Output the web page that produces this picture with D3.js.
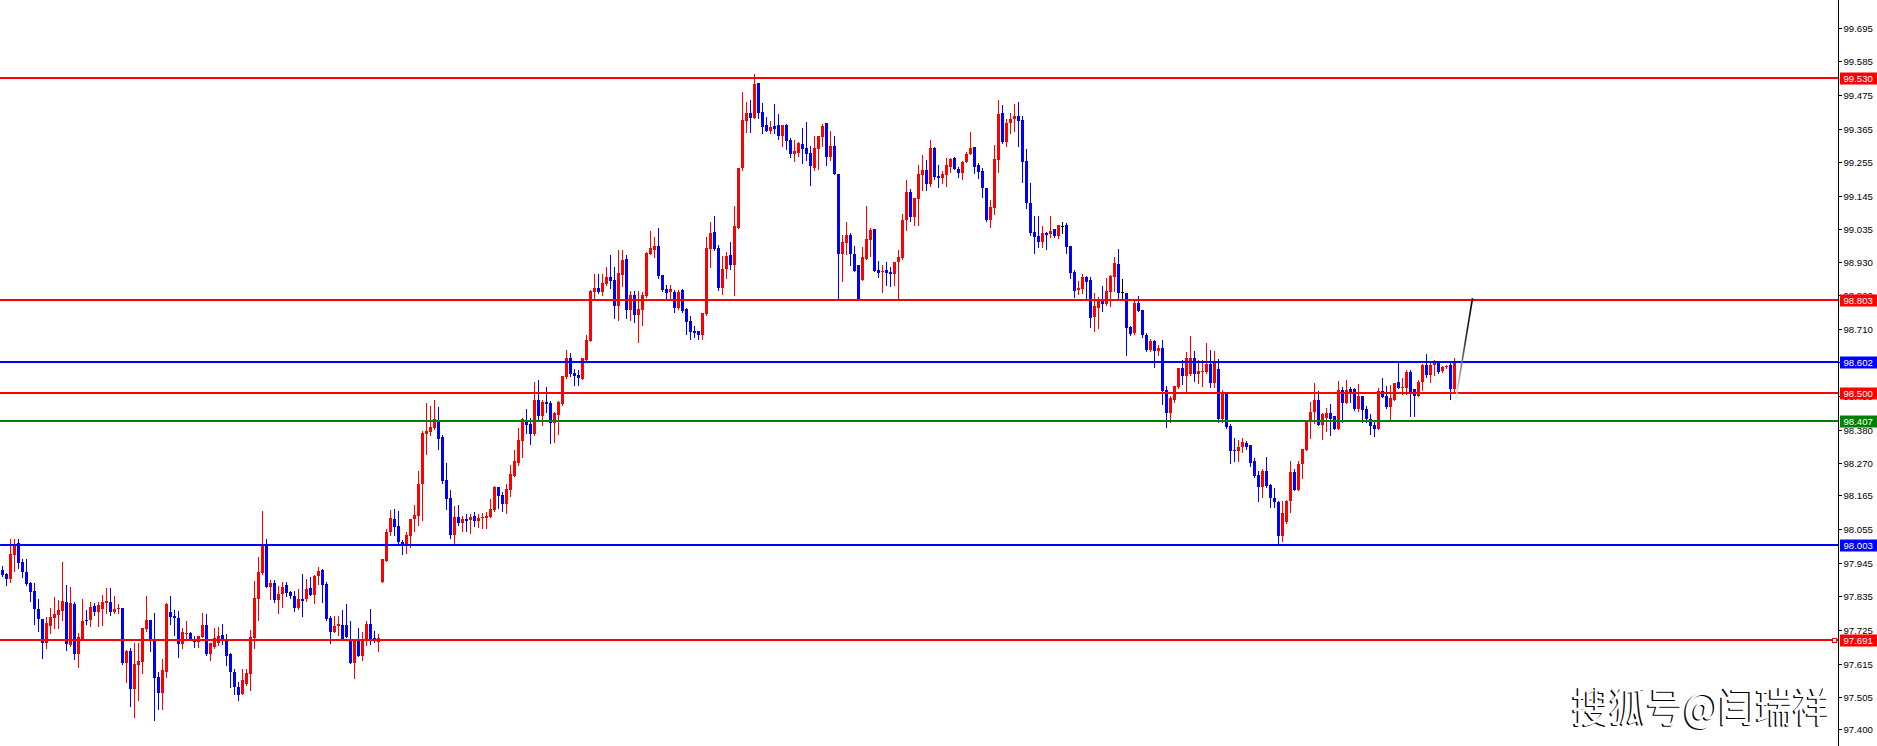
<!DOCTYPE html>
<html><head><meta charset="utf-8">
<script src="https://cdn.jsdelivr.net/npm/d3@7"></script>
<style>html,body{margin:0;padding:0;background:#fff;overflow:hidden}svg{display:block}</style>
</head><body>
<svg id="chart" width="1877" height="746"></svg>
<script>
const opens = [97.921,97.908,97.891,97.970,98.008,97.947,97.914,97.878,97.852,97.793,97.760,97.683,97.739,97.765,97.775,97.788,97.816,97.675,97.810,97.647,
97.692,97.757,97.756,97.803,97.783,97.794,97.814,97.816,97.783,97.792,97.798,97.618,97.656,97.532,97.610,97.620,97.728,97.756,97.692,97.570,
97.520,97.588,97.783,97.770,97.764,97.680,97.711,97.716,97.692,97.684,97.703,97.741,97.647,97.670,97.682,97.708,97.692,97.645,97.589,97.538,
97.517,97.548,97.581,97.699,97.827,97.910,98.007,97.866,97.878,97.823,97.841,97.871,97.849,97.836,97.798,97.827,97.825,97.862,97.839,97.902,
97.920,97.875,97.764,97.718,97.739,97.740,97.740,97.697,97.618,97.691,97.641,97.694,97.744,97.699,97.687,97.883,97.952,98.045,98.088,98.065,
98.014,98.001,98.033,98.088,98.098,98.202,98.366,98.372,98.384,98.412,98.356,98.215,98.157,98.036,98.094,98.076,98.088,98.085,98.098,98.082,
98.091,98.091,98.096,98.117,98.193,98.166,98.137,98.183,98.229,98.271,98.343,98.412,98.399,98.366,98.477,98.425,98.471,98.467,98.402,98.428,
98.464,98.552,98.615,98.565,98.559,98.546,98.608,98.670,98.831,98.843,98.829,98.857,98.879,98.870,98.785,98.886,98.938,98.772,98.821,98.755,
98.772,98.817,98.955,98.968,98.981,98.886,98.841,98.831,98.830,98.778,98.837,98.776,98.736,98.703,98.703,98.690,98.758,98.971,99.027,98.974,
98.843,98.906,98.951,98.919,99.040,99.236,99.390,99.417,99.400,99.514,99.419,99.377,99.357,99.373,99.377,99.341,99.377,99.328,99.282,99.285,
99.315,99.301,99.285,99.236,99.298,99.337,99.383,99.272,99.308,99.216,98.955,98.991,99.017,98.955,98.919,98.870,98.938,99.000,99.036,98.902,
98.896,98.902,98.896,98.889,98.929,98.942,99.066,99.158,99.076,99.135,99.213,99.229,99.184,99.301,99.210,99.203,99.213,99.239,99.269,99.233,
99.220,99.256,99.282,99.304,99.246,99.226,99.171,99.066,99.105,99.262,99.417,99.321,99.383,99.396,99.406,99.393,99.259,99.122,99.027,99.014,
98.994,99.023,99.020,99.036,99.014,99.046,99.050,98.981,98.896,98.837,98.840,98.879,98.870,98.749,98.778,98.801,98.791,98.830,98.879,98.922,
98.830,98.827,98.716,98.696,98.794,98.772,98.690,98.641,98.670,98.637,98.647,98.510,98.434,98.477,98.520,98.582,98.556,98.562,98.615,98.562,
98.569,98.569,98.595,98.533,98.579,98.415,98.497,98.392,98.315,98.310,98.323,98.337,98.330,98.278,98.232,98.193,98.245,98.199,98.157,98.144,
98.032,98.078,98.147,98.242,98.183,98.268,98.314,98.405,98.438,98.477,98.395,98.418,98.435,98.425,98.382,98.510,98.467,98.514,98.513,98.448,
98.490,98.448,98.415,98.395,98.382,98.507,98.490,98.454,98.477,98.536,98.516,98.516,98.569,98.513,98.490,98.536,98.592,98.559,98.592,98.601,
98.572,98.585,98.592,98.513];
const highs = [97.934,97.910,98.023,98.022,98.022,97.958,97.957,97.883,97.877,97.827,97.760,97.766,97.798,97.832,97.823,97.947,97.872,97.865,97.817,97.715,
97.827,97.791,97.816,97.813,97.816,97.838,97.862,97.862,97.835,97.811,97.798,97.660,97.665,97.682,97.682,97.731,97.836,97.756,97.780,97.589,
97.629,97.812,97.836,97.789,97.786,97.730,97.754,97.719,97.706,97.706,97.780,97.778,97.682,97.731,97.734,97.745,97.712,97.649,97.598,97.554,
97.598,97.598,97.725,97.886,97.965,98.114,98.021,97.887,97.889,97.868,97.883,97.881,97.854,97.854,97.859,97.908,97.893,97.898,97.904,97.930,
97.924,97.881,97.769,97.769,97.770,97.789,97.810,97.754,97.692,97.730,97.719,97.754,97.792,97.721,97.713,97.957,98.056,98.118,98.120,98.115,
98.019,98.045,98.088,98.134,98.245,98.376,98.467,98.458,98.477,98.454,98.363,98.271,98.183,98.130,98.134,98.098,98.104,98.104,98.111,98.104,
98.108,98.111,98.153,98.196,98.193,98.176,98.202,98.265,98.314,98.386,98.418,98.448,98.418,98.536,98.543,98.477,98.520,98.474,98.438,98.474,
98.556,98.641,98.631,98.579,98.575,98.615,98.690,98.837,98.889,98.889,98.889,98.912,98.951,98.912,98.968,98.968,98.951,98.834,98.834,98.834,
98.830,98.961,99.030,99.010,99.040,98.886,98.853,98.853,98.837,98.837,98.840,98.778,98.752,98.719,98.703,98.762,99.010,99.059,99.079,98.984,
98.948,98.961,98.994,99.112,99.236,99.485,99.452,99.458,99.544,99.514,99.449,99.403,99.390,99.445,99.413,99.377,99.380,99.334,99.328,99.321,
99.367,99.386,99.308,99.341,99.341,99.380,99.383,99.357,99.341,99.216,99.017,99.059,99.023,98.981,98.919,98.978,99.112,99.040,99.036,98.932,
98.919,98.929,98.912,98.929,98.968,99.086,99.197,99.167,99.138,99.246,99.279,99.262,99.328,99.305,99.246,99.226,99.269,99.269,99.272,99.239,
99.259,99.288,99.354,99.305,99.252,99.236,99.171,99.131,99.311,99.458,99.442,99.396,99.416,99.445,99.452,99.406,99.298,99.187,99.079,99.079,
99.046,99.027,99.079,99.036,99.050,99.059,99.056,98.981,98.902,98.866,98.889,98.883,98.879,98.827,98.814,98.850,98.876,98.886,98.945,98.971,
98.873,98.827,98.719,98.808,98.817,98.772,98.696,98.677,98.673,98.657,98.673,98.523,98.490,98.523,98.582,98.608,98.634,98.687,98.637,98.608,
98.608,98.664,98.641,98.637,98.611,98.510,98.497,98.399,98.353,98.346,98.353,98.343,98.330,98.287,98.245,98.251,98.291,98.202,98.189,98.147,
98.147,98.150,98.278,98.251,98.278,98.317,98.405,98.471,98.533,98.507,98.435,98.451,98.464,98.425,98.539,98.520,98.543,98.520,98.516,98.530,
98.490,98.458,98.431,98.408,98.516,98.549,98.523,98.526,98.533,98.605,98.549,98.575,98.575,98.513,98.543,98.595,98.628,98.601,98.608,98.605,
98.588,98.592,98.601,98.615];
const lows = [97.902,97.873,97.883,97.919,97.928,97.898,97.873,97.820,97.744,97.721,97.634,97.667,97.715,97.731,97.732,97.758,97.659,97.673,97.629,97.605,
97.692,97.745,97.739,97.774,97.739,97.742,97.782,97.774,97.779,97.780,97.614,97.556,97.477,97.441,97.497,97.585,97.723,97.656,97.429,97.468,
97.468,97.571,97.745,97.709,97.636,97.666,97.696,97.694,97.670,97.670,97.702,97.644,97.626,97.667,97.675,97.680,97.610,97.538,97.517,97.497,
97.514,97.545,97.530,97.665,97.757,97.907,97.866,97.826,97.815,97.781,97.801,97.837,97.828,97.788,97.795,97.771,97.820,97.839,97.813,97.874,
97.815,97.759,97.681,97.718,97.709,97.695,97.702,97.618,97.569,97.641,97.626,97.675,97.680,97.686,97.656,97.883,97.950,98.037,98.035,98.008,
97.974,97.978,97.997,98.049,98.068,98.085,98.302,98.363,98.382,98.317,98.207,98.122,98.026,98.006,98.068,98.050,98.049,98.042,98.065,98.062,
98.058,98.058,98.094,98.114,98.124,98.114,98.108,98.163,98.229,98.265,98.291,98.368,98.333,98.363,98.412,98.395,98.438,98.336,98.340,98.366,
98.461,98.549,98.556,98.526,98.526,98.546,98.608,98.670,98.804,98.826,98.820,98.853,98.843,98.745,98.739,98.850,98.745,98.739,98.732,98.667,
98.722,98.814,98.955,98.945,98.876,98.834,98.804,98.804,98.765,98.775,98.765,98.693,98.677,98.683,98.677,98.677,98.755,98.912,98.968,98.837,
98.824,98.876,98.906,98.821,99.040,99.229,99.354,99.354,99.400,99.400,99.350,99.357,99.350,99.350,99.331,99.308,99.298,99.272,99.259,99.275,
99.252,99.262,99.180,99.229,99.233,99.308,99.246,99.262,99.216,98.809,98.866,98.955,98.919,98.899,98.809,98.870,98.938,98.948,98.899,98.879,
98.830,98.853,98.850,98.853,98.809,98.938,99.033,99.063,99.050,99.050,99.164,99.164,99.177,99.200,99.174,99.187,99.177,99.223,99.233,99.207,
99.200,99.256,99.282,99.220,99.203,99.141,99.063,99.043,99.086,99.223,99.318,99.308,99.351,99.357,99.308,99.190,99.105,99.017,98.958,98.978,
98.978,98.971,99.010,99.010,99.007,99.023,98.958,98.876,98.814,98.824,98.827,98.811,98.716,98.703,98.713,98.768,98.788,98.785,98.834,98.811,
98.811,98.624,98.690,98.693,98.768,98.683,98.637,98.637,98.585,98.624,98.464,98.389,98.405,98.471,98.516,98.530,98.507,98.559,98.539,98.533,
98.523,98.565,98.520,98.520,98.405,98.405,98.386,98.271,98.279,98.279,98.307,98.317,98.261,98.225,98.147,98.160,98.193,98.127,98.127,98.007,
98.017,98.075,98.111,98.183,98.183,98.222,98.314,98.353,98.402,98.395,98.350,98.376,98.363,98.382,98.382,98.405,98.467,98.471,98.444,98.441,
98.405,98.405,98.366,98.359,98.382,98.487,98.451,98.415,98.477,98.516,98.497,98.497,98.425,98.425,98.490,98.510,98.552,98.536,98.559,98.566,
98.569,98.582,98.480,98.500];
const closes = [97.905,97.891,97.973,98.002,97.945,97.915,97.876,97.850,97.794,97.762,97.683,97.748,97.767,97.777,97.789,97.819,97.679,97.812,97.647,97.701,
97.754,97.754,97.800,97.783,97.805,97.816,97.819,97.783,97.794,97.798,97.618,97.656,97.533,97.613,97.623,97.731,97.756,97.692,97.569,97.520,
97.594,97.810,97.768,97.763,97.680,97.719,97.716,97.695,97.686,97.705,97.741,97.647,97.682,97.698,97.705,97.692,97.641,97.588,97.539,97.513,
97.560,97.584,97.702,97.828,97.914,98.007,97.866,97.878,97.823,97.841,97.865,97.847,97.836,97.798,97.826,97.819,97.859,97.839,97.903,97.917,
97.872,97.762,97.719,97.739,97.746,97.695,97.702,97.618,97.691,97.641,97.697,97.744,97.692,97.690,97.698,97.957,98.045,98.090,98.063,98.012,
98.001,98.036,98.088,98.101,98.202,98.370,98.376,98.389,98.415,98.350,98.213,98.154,98.036,98.094,98.076,98.088,98.082,98.094,98.082,98.091,
98.094,98.098,98.121,98.193,98.163,98.137,98.186,98.235,98.278,98.346,98.415,98.395,98.366,98.477,98.425,98.471,98.464,98.402,98.436,98.471,
98.556,98.615,98.562,98.556,98.549,98.615,98.673,98.834,98.845,98.829,98.860,98.879,98.866,98.785,98.893,98.935,98.772,98.821,98.755,98.775,
98.821,98.958,98.974,98.981,98.883,98.837,98.828,98.840,98.778,98.830,98.769,98.732,98.700,98.696,98.690,98.762,98.974,99.023,98.971,98.843,
98.906,98.948,98.919,99.046,99.236,99.393,99.417,99.400,99.511,99.417,99.370,99.357,99.370,99.364,99.341,99.377,99.324,99.282,99.292,99.318,
99.298,99.282,99.243,99.301,99.341,99.373,99.272,99.308,99.216,98.955,98.994,99.017,98.955,98.899,98.809,98.945,99.004,99.033,98.899,98.893,
98.899,98.893,98.889,98.929,98.945,99.066,99.158,99.076,99.138,99.216,99.229,99.184,99.301,99.207,99.203,99.216,99.246,99.265,99.233,99.220,
99.256,99.282,99.301,99.239,99.223,99.171,99.066,99.108,99.265,99.413,99.321,99.383,99.396,99.406,99.390,99.256,99.122,99.023,99.010,98.994,
99.023,99.017,99.030,99.014,99.050,99.046,98.978,98.893,98.834,98.843,98.879,98.863,98.745,98.785,98.801,98.791,98.834,98.883,98.925,98.827,
98.830,98.713,98.693,98.794,98.768,98.690,98.641,98.670,98.637,98.647,98.507,98.435,98.484,98.523,98.582,98.556,98.615,98.615,98.562,98.572,
98.572,98.595,98.533,98.605,98.415,98.497,98.389,98.310,98.310,98.323,98.340,98.323,98.271,98.229,98.193,98.245,98.196,98.157,98.142,98.032,
98.108,98.147,98.242,98.183,98.268,98.317,98.405,98.438,98.477,98.395,98.431,98.435,98.414,98.382,98.510,98.467,98.510,98.504,98.448,98.490,
98.444,98.415,98.392,98.382,98.507,98.487,98.454,98.484,98.533,98.516,98.520,98.569,98.497,98.490,98.536,98.592,98.559,98.592,98.601,98.569,
98.585,98.588,98.513,98.601];

const tickValues = [99.695,99.585,99.475,99.365,99.255,99.145,99.035,98.930,98.820,98.710,98.600,98.490,98.380,98.270,98.165,98.055,97.945,97.835,97.725,97.615,97.505,97.400];
const levelPrices = [99.530,98.803,98.602,98.500,98.407,98.003,97.691];
const levelKinds = ["resistance","resistance","pivot","resistance","support","pivot","resistance"];
const trendIndex = [363.1, 367.5];
const trendPrice = [98.461, 98.81];
const watermarkText = "搜狐号@闫瑞祥";

// ---- styles / layout ----
const W = 1877, H = 746, axisX = 1838.5;
const kindColor = {resistance:"#ff0000", pivot:"#0000ff", support:"#008000"};
const UP = "#ff0000", DOWN = "#0000ff", FLAT = "#000000";
const FONT = "'Liberation Sans', Arial, sans-serif";

const svg = d3.select("#chart");
svg.append("rect").attr("width", W).attr("height", H).attr("fill", "#fff");

const y = d3.scaleLinear().domain([97.400, 99.695]).range([729.3, 27.7]);
const x = d3.scaleLinear().domain([0, opens.length - 1]).range([2.5, 2.5 + 4 * (opens.length - 1)]);

const candles = opens.map((o, i) => ({i, o, h: highs[i], l: lows[i], c: closes[i]}));
const col = d => d.c > d.o ? UP : (d.c < d.o ? DOWN : FLAT);

const plot = svg.append("g").attr("shape-rendering", "crispEdges");
const cg = plot.selectAll("g.c").data(candles).join("g").attr("class", "c");
cg.append("rect")
  .attr("x", d => Math.round(x(d.i) - 0.5))
  .attr("width", 1)
  .attr("y", d => Math.round(y(d.h)))
  .attr("height", d => Math.max(1, Math.round(y(d.l)) - Math.round(y(d.h)) + 1))
  .attr("fill", col);
cg.append("rect")
  .attr("x", d => Math.round(x(d.i) - 1.5))
  .attr("width", 3)
  .attr("y", d => Math.round(y(Math.max(d.o, d.c))))
  .attr("height", d => Math.max(1, Math.round(y(Math.min(d.o, d.c))) - Math.round(y(Math.max(d.o, d.c)))))
  .attr("fill", col);

// horizontal levels
plot.selectAll("line.lvl").data(levelPrices).join("line")
  .attr("class", "lvl")
  .attr("x1", 0).attr("x2", axisX)
  .attr("y1", p => Math.round(y(p))).attr("y2", p => Math.round(y(p)))
  .attr("stroke", (p, i) => kindColor[levelKinds[i]])
  .attr("stroke-width", 2);

// trend line with gradient
const defs = svg.append("defs");
const gr = defs.append("linearGradient").attr("id", "tg")
  .attr("gradientUnits", "userSpaceOnUse")
  .attr("x1", x(trendIndex[0])).attr("y1", y(trendPrice[0]))
  .attr("x2", x(trendIndex[1])).attr("y2", y(trendPrice[1]));
gr.append("stop").attr("offset", 0).attr("stop-color", "#ffffff");
gr.append("stop").attr("offset", 0.3).attr("stop-color", "#9a9a9a");
gr.append("stop").attr("offset", 0.6).attr("stop-color", "#333");
gr.append("stop").attr("offset", 1).attr("stop-color", "#000");
svg.append("line")
  .attr("x1", x(trendIndex[0])).attr("y1", y(trendPrice[0]))
  .attr("x2", x(trendIndex[1])).attr("y2", y(trendPrice[1]))
  .attr("stroke", "url(#tg)").attr("stroke-width", 1.6);

// watermark (scaled horizontally to the reference width)
const wmWidth = 258;
const wmShadow = svg.append("g");
const wmFront = svg.append("g");
const mk = (g, fill) => g.append("text").attr("x", 0).attr("y", 0)
  .attr("font-family", "'Noto Sans CJK SC', sans-serif").attr("font-size", 41)
  .attr("fill", fill).text(watermarkText);
const tShadow = mk(wmShadow, "#000");
const tFront = mk(wmFront, "#fff");
const natural = tFront.node().getComputedTextLength() || 325;
const sx = wmWidth / natural;
wmShadow.attr("transform", `translate(1570.5,723) scale(${sx},1)`);
wmFront.attr("transform", `translate(1572,722) scale(${sx},1)`);

// right axis
const ax = svg.append("g");
ax.append("rect").attr("x", axisX + 0.5).attr("y", 0).attr("width", W - axisX).attr("height", H).attr("fill", "#fff");
ax.append("line").attr("x1", axisX).attr("x2", axisX).attr("y1", 0).attr("y2", H)
  .attr("stroke", "#000").attr("stroke-width", 1).attr("shape-rendering", "crispEdges");
const tk = ax.selectAll("g.t").data(tickValues).join("g").attr("class", "t")
  .attr("transform", v => `translate(0,${Math.round(y(v))})`);
tk.append("line").attr("x1", axisX).attr("x2", axisX + 3).attr("y1", 0.5).attr("y2", 0.5)
  .attr("stroke", "#000").attr("shape-rendering", "crispEdges");
tk.append("text").attr("x", 1843.5).attr("y", 4)
  .attr("font-family", FONT).attr("font-size", 9.6).attr("fill", "#000")
  .text(v => d3.format(".3f")(v));

// level price tags
const tags = ax.selectAll("g.tag").data(levelPrices).join("g").attr("class", "tag")
  .attr("transform", p => `translate(0,${Math.round(y(p))})`);
tags.append("rect").attr("x", 1840).attr("y", -5.5).attr("width", 37).attr("height", 12)
  .attr("fill", (p, i) => kindColor[levelKinds[i]]);
tags.append("text").attr("x", 1843.5).attr("y", 4)
  .attr("font-family", FONT).attr("font-size", 9.6).attr("fill", "#fff")
  .text(p => d3.format(".3f")(p));

// small anchor marker on the lowest level
svg.append("rect").attr("x", 1832.5).attr("y", Math.round(y(levelPrices[6])) - 1.5)
  .attr("width", 4).attr("height", 4).attr("fill", "#fff").attr("stroke", kindColor[levelKinds[6]])
  .attr("stroke-width", 1).attr("shape-rendering", "crispEdges");
</script>
</body></html>
